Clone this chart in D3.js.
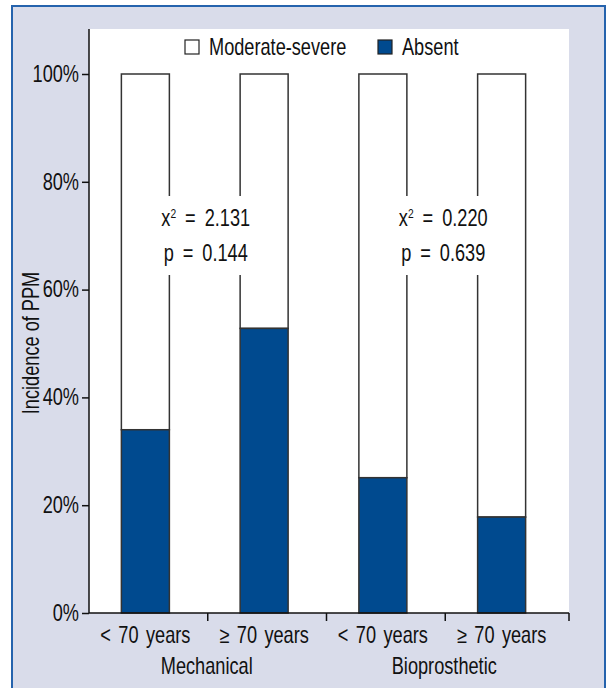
<!DOCTYPE html>
<html>
<head>
<meta charset="utf-8">
<script src="https://cdn.jsdelivr.net/npm/d3@7"></script>
<style>
  body { margin: 0; background: #fff; }
  text { font-family: "Liberation Sans", Arial, sans-serif; fill: #111; }
</style>
</head>
<body>
<div id="chart"></div>
<script>
const groups = ['Mechanical', 'Bioprosthetic'];
const categories = ['< 70 years', '≥ 70 years', '< 70 years ', '≥ 70 years '];
const categoryGroup = ['Mechanical', 'Mechanical', 'Bioprosthetic', 'Bioprosthetic'];
const absent = [34.0, 52.8, 25.1, 17.8];
const moderateSevere = [66.0, 47.2, 74.9, 82.2];
const yTicks = [0, 20, 40, 60, 80, 100];
const stats = [
  { group: 'Mechanical', chi: '2.131', p: '0.144' },
  { group: 'Bioprosthetic', chi: '0.220', p: '0.639' }
];

const width = 609;
const height = 688;
const plotLeft = 89, plotRight = 569, plotTop = 29, plotBottom = 613;
const fontSize = 23;
const squeeze = 0.79; // condensed look

const svg = d3.select('#chart')
  .append('svg')
  .attr('width', width)
  .attr('height', height);

// frame
svg.append('rect')
  .attr('x', 12).attr('y', 6)
  .attr('width', 593).attr('height', 700)
  .attr('fill', '#d9dcea')
  .attr('stroke', '#2563ad')
  .attr('stroke-width', 2);

svg.append('rect')
  .attr('x', plotLeft).attr('y', plotTop)
  .attr('width', plotRight - plotLeft).attr('height', plotBottom - plotTop)
  .attr('fill', '#fff');

// scales
const x = d3.scaleBand()
  .domain(categories)
  .range([86, 561]);

const y = d3.scaleLinear()
  .domain([0, 100])
  .range([plotBottom, 74]);

const barWidth = 48;
const barX = function (d, i) {
  return x(categories[i]) + x.bandwidth() / 2 - barWidth / 2;
};

// stacked bars
svg.selectAll('rect.mod')
  .data(moderateSevere)
  .enter()
  .append('rect')
  .attr('class', 'mod')
  .attr('x', barX)
  .attr('y', function (d, i) { return y(absent[i] + d); })
  .attr('width', barWidth)
  .attr('height', function (d, i) { return y(absent[i]) - y(absent[i] + d); })
  .attr('fill', '#fff')
  .attr('stroke', '#333')
  .attr('stroke-width', 1.5);

svg.selectAll('rect.abs')
  .data(absent)
  .enter()
  .append('rect')
  .attr('class', 'abs')
  .attr('x', barX)
  .attr('y', function (d) { return y(d); })
  .attr('width', barWidth)
  .attr('height', function (d) { return y(0) - y(d); })
  .attr('fill', '#004a8f')
  .attr('stroke', '#333')
  .attr('stroke-width', 1.5);

// y axis
const yAxis = svg.append('g')
  .attr('transform', 'translate(' + plotLeft + ',0)')
  .call(d3.axisLeft(y).tickValues(yTicks).tickSize(7).tickSizeOuter(0)
    .tickFormat(function (d) { return d + '%'; }));
yAxis.select('.domain').remove();
yAxis.append('line')
  .attr('x1', 0).attr('x2', 0)
  .attr('y1', plotTop).attr('y2', plotBottom)
  .attr('stroke', '#111').attr('stroke-width', 1.5);
yAxis.selectAll('.tick line').attr('stroke', '#111').attr('stroke-width', 1.5);
yAxis.selectAll('.tick text')
  .attr('x', -10)
  .attr('font-size', fontSize)
  .attr('font-family', null)
  .attr('fill', '#111');

// x axis
const xAxis = svg.append('g')
  .attr('transform', 'translate(0,' + plotBottom + ')');
xAxis.append('line')
  .attr('x1', plotLeft).attr('x2', plotRight)
  .attr('stroke', '#111').attr('stroke-width', 1.5);
xAxis.selectAll('line.tick')
  .data(categories)
  .enter()
  .append('line')
  .attr('class', 'tick')
  .attr('x1', function (d, i) { return i === categories.length - 1 ? plotRight : x(d) + x.bandwidth() + 3; })
  .attr('x2', function (d, i) { return i === categories.length - 1 ? plotRight : x(d) + x.bandwidth() + 3; })
  .attr('y1', 0).attr('y2', 8)
  .attr('stroke', '#111').attr('stroke-width', 1.5);
xAxis.selectAll('text.cat')
  .data(categories)
  .enter()
  .append('text')
  .attr('class', 'cat')
  .attr('x', function (d) { return x(d) + x.bandwidth() / 2; })
  .attr('y', 30)
  .attr('text-anchor', 'middle')
  .attr('font-size', fontSize)
  .attr('word-spacing', 3)
  .text(function (d) { return d.trim(); });

// group labels
svg.selectAll('text.group')
  .data(groups)
  .enter()
  .append('text')
  .attr('class', 'group')
  .attr('x', function (g) {
    const idx = categoryGroup.map(function (c, i) { return c === g ? i : -1; }).filter(function (i) { return i >= 0; });
    return (x(categories[idx[0]]) + x(categories[idx[idx.length - 1]]) + x.bandwidth()) / 2 + 2;
  })
  .attr('y', 674)
  .attr('text-anchor', 'middle')
  .attr('font-size', fontSize)
  .text(function (d) { return d; });

// statistics (white box behind hides the bar outlines)
const statX = function (s) {
  const idx = categoryGroup.indexOf(s.group);
  return x(categories[idx]) + x.bandwidth() + 1;
};
svg.selectAll('rect.statbg')
  .data(stats)
  .enter()
  .append('rect')
  .attr('class', 'statbg')
  .attr('x', function (d) { return statX(d) - 48; })
  .attr('y', 196)
  .attr('width', 96)
  .attr('height', 79)
  .attr('fill', '#fff');
svg.selectAll('text.chi')
  .data(stats)
  .enter()
  .append('text')
  .attr('class', 'chi')
  .attr('x', statX)
  .attr('y', 226)
  .attr('text-anchor', 'middle')
  .attr('font-size', fontSize)
  .attr('word-spacing', 5)
  .each(function (d) {
    const t = d3.select(this);
    t.append('tspan').text('x');
    t.append('tspan').text('2').attr('font-size', 13).attr('dy', -8);
    t.append('tspan').text(' = ' + d.chi).attr('dy', 8);
  });
svg.selectAll('text.pval')
  .data(stats)
  .enter()
  .append('text')
  .attr('class', 'pval')
  .attr('x', statX)
  .attr('y', 261)
  .attr('text-anchor', 'middle')
  .attr('font-size', fontSize)
  .attr('word-spacing', 5)
  .text(function (d) { return 'p = ' + d.p; });

// legend
const legendItems = [
  { label: 'Moderate-severe', fill: '#fff', x: 185 },
  { label: 'Absent', fill: '#004a8f', x: 378 }
];
const legend = svg.selectAll('g.legend')
  .data(legendItems)
  .enter()
  .append('g')
  .attr('class', 'legend')
  .attr('transform', function (d) { return 'translate(' + d.x + ',40)'; });
legend.append('rect')
  .attr('width', 14).attr('height', 14)
  .attr('fill', function (d) { return d.fill; })
  .attr('stroke', '#222').attr('stroke-width', 1.2);
legend.append('text')
  .attr('x', 24).attr('y', 15)
  .attr('font-size', fontSize)
  .text(function (d) { return d.label; });

// squeeze all horizontal text around its anchor point
svg.selectAll('text').each(function () {
  const t = d3.select(this);
  const ax = +t.attr('x') || 0;
  t.attr('transform', 'translate(' + ax + ',0) scale(' + squeeze + ',1) translate(' + (-ax) + ',0)');
});

// y title (rotated)
svg.append('text')
  .attr('transform', 'translate(39,343) rotate(-90) scale(' + squeeze + ',1)')
  .attr('text-anchor', 'middle')
  .attr('font-size', fontSize)
  .text('Incidence of PPM');
</script>
</body>
</html>
